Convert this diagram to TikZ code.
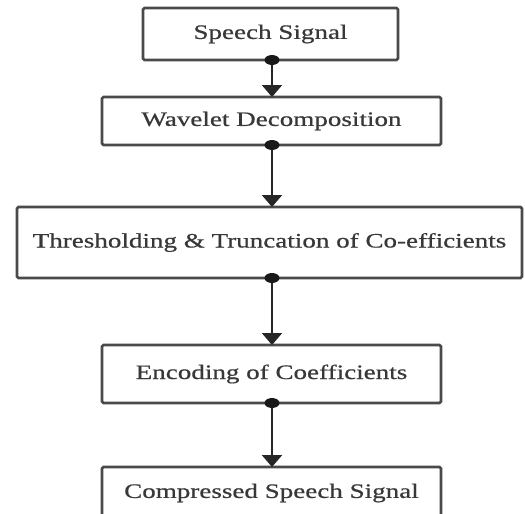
\documentclass[tikz,border=0pt]{standalone}
\usepackage{fontspec}
\setmainfont{Liberation Serif}[FakeStretch=1.32, FakeBold=0.6]
\usetikzlibrary{arrows.meta}
\definecolor{edge}{HTML}{4A4A4A}
\definecolor{ink}{HTML}{383838}
\tikzset{
  stage/.style={draw=edge, line width=2.6pt, rounded corners=1.5pt, inner sep=0pt, text=ink,
    font=\fontsize{20.5}{24}\selectfont},
  conn/.style={draw=black!85, line width=2.2pt, -{Triangle[width=20pt,length=12pt]}},
  dotmark/.style={fill=black!90}
}
\begin{document}
\begin{tikzpicture}[x=1pt,y=-1pt]
\useasboundingbox (0,0) rectangle (525,514);
\fill[white] (0,0) rectangle (525,514);
\node[stage, minimum width=255pt, minimum height=52pt] (b1) at (270.5,34) {Speech Signal};
\node[stage, minimum width=339pt, minimum height=48pt] (b2) at (271.5,121) {Wavelet Decomposition};
\node[stage, minimum width=505pt, minimum height=71pt] (b3) at (269.5,242.5) {Thresholding \& Truncation of Co-efficients};
\node[stage, minimum width=339pt, minimum height=58pt] (b4) at (271.5,374) {Encoding of Coefficients};
\node[stage, minimum width=339pt, minimum height=52pt] (b5) at (271.5,493) {Compressed Speech Signal};
\coordinate (s1) at (272,60);
\coordinate (t1) at (272,97);
\coordinate (s2) at (272,145);
\coordinate (t2) at (272,207);
\coordinate (s3) at (272,278);
\coordinate (t3) at (272,345);
\coordinate (s4) at (272,403);
\coordinate (t4) at (272,467);
\foreach \s/\t in {s1/t1,s2/t2,s3/t3,s4/t4}{
  \draw[conn] (\s) -- (\t);
  \fill[dotmark] (\s) ellipse (7.5 and 5);
}
\end{tikzpicture}
\end{document}
